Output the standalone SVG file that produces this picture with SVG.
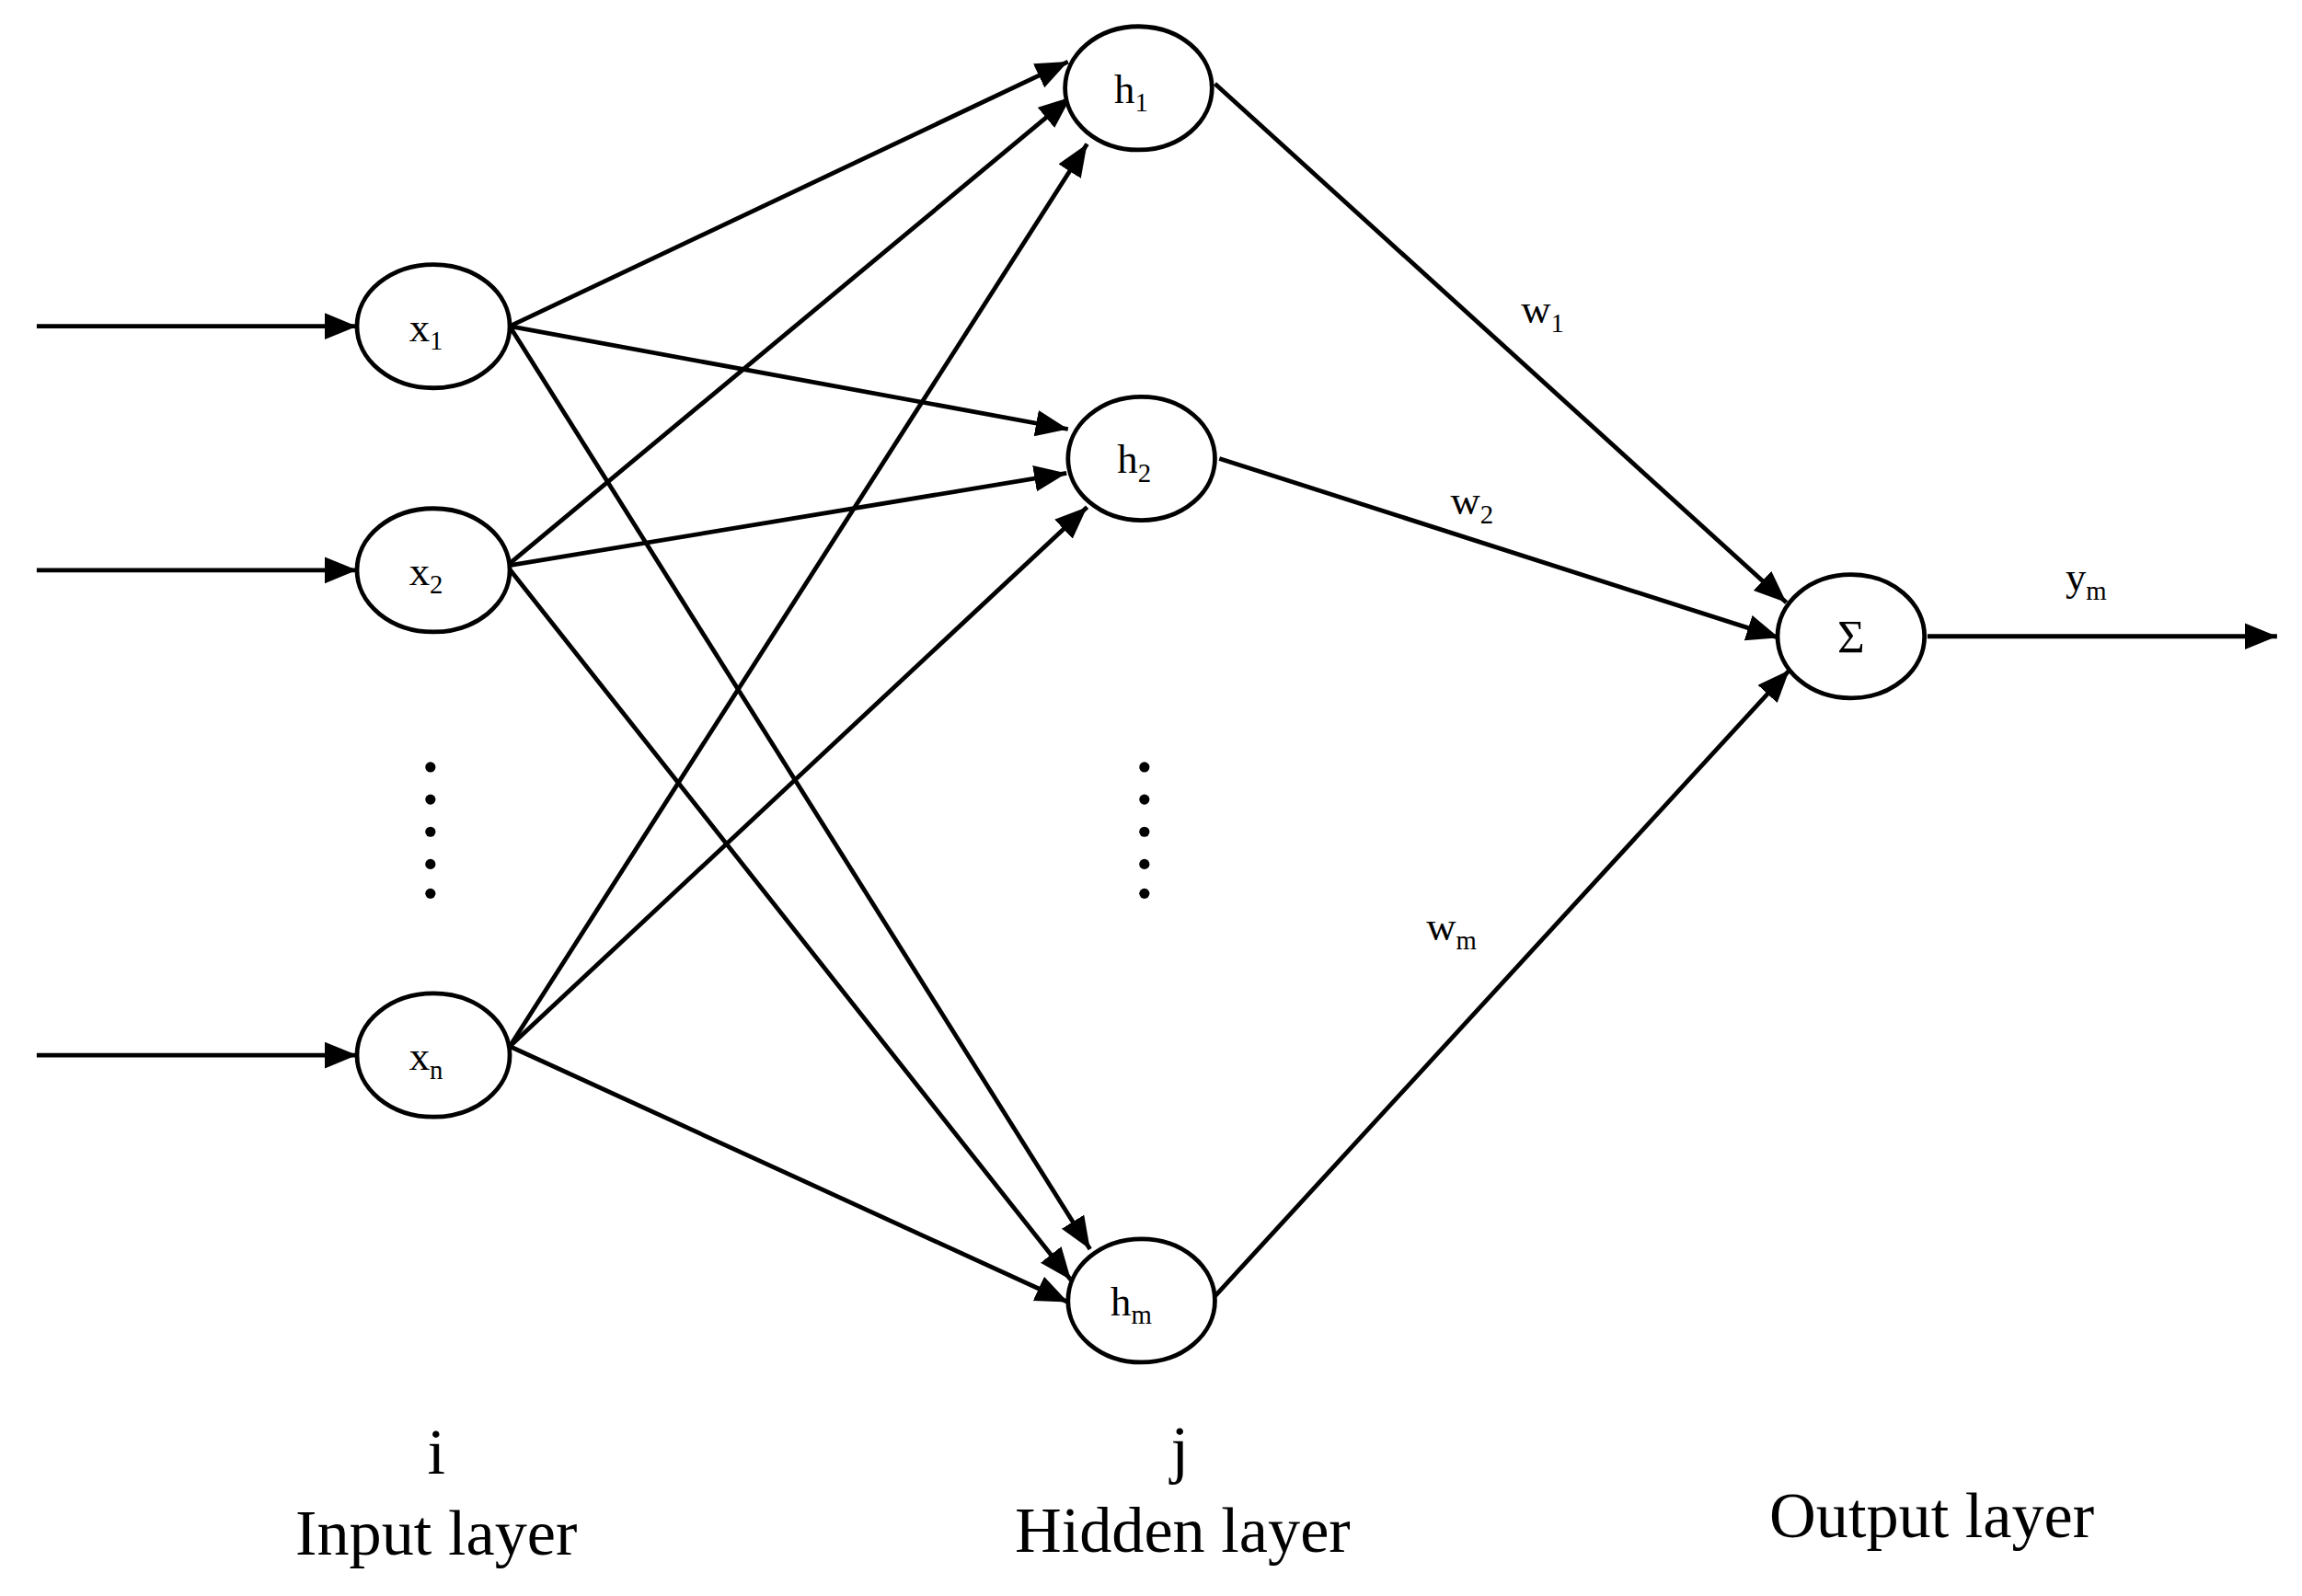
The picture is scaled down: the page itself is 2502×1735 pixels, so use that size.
<svg xmlns="http://www.w3.org/2000/svg" width="2502" height="1735" viewBox="0 0 2502 1735">
<style>
.n{fill:#fff;stroke:#000;stroke-width:3}
.e{stroke:#000;stroke-width:3;fill:none}
text{font-family:"Liberation Serif",serif;fill:#000}
.t{font-size:28px;text-anchor:middle}
.s{font-size:18px}
.l{font-size:44px;text-anchor:middle}
</style>
<defs>
<marker id="a" markerUnits="userSpaceOnUse" markerWidth="24" markerHeight="20" refX="22" refY="9" orient="auto">
<path d="M0,0 L22,9 L0,18 Z" fill="#000"/>
</marker>
</defs>
<rect width="2502" height="1735" fill="#fff"/>
<g transform="scale(1.5967,1.5976)">
<g id="connectors" class="e" marker-end="url(#a)">
<line x1="25" y1="222" x2="243" y2="222"/>
<line x1="25" y1="388" x2="243" y2="388"/>
<line x1="25" y1="718" x2="243" y2="718"/>
<line x1="347" y1="222" x2="727" y2="42"/>
<line x1="347" y1="222" x2="727" y2="292"/>
<line x1="347" y1="222" x2="742" y2="850"/>
<line x1="345" y1="385" x2="729" y2="66"/>
<line x1="345" y1="385" x2="726" y2="322"/>
<line x1="345" y1="385" x2="729" y2="871"/>
<line x1="347" y1="712" x2="740" y2="98"/>
<line x1="347" y1="712" x2="740" y2="345"/>
<line x1="347" y1="712" x2="727" y2="886"/>
<line x1="827" y1="57" x2="1216" y2="410"/>
<line x1="830" y1="312" x2="1211" y2="434"/>
<line x1="827" y1="882" x2="1218" y2="456"/>
<line x1="1312" y1="433" x2="1550" y2="433"/>
</g>
<g id="x1"><ellipse class="n" cx="295" cy="222" rx="52" ry="42"/><text class="t" x="290" y="232">x<tspan class="s" dy="6">1</tspan></text></g>
<g id="x2"><ellipse class="n" cx="295" cy="388" rx="52" ry="42"/><text class="t" x="290" y="398">x<tspan class="s" dy="6">2</tspan></text></g>
<g id="xn"><ellipse class="n" cx="295" cy="718" rx="52" ry="42"/><text class="t" x="290" y="728">x<tspan class="s" dy="6">n</tspan></text></g>
<g id="h1"><ellipse class="n" cx="775" cy="60" rx="50" ry="42"/><text class="t" x="770" y="70">h<tspan class="s" dy="6">1</tspan></text></g>
<g id="h2"><ellipse class="n" cx="777" cy="312" rx="50" ry="42"/><text class="t" x="772" y="322">h<tspan class="s" dy="6">2</tspan></text></g>
<g id="hm"><ellipse class="n" cx="777" cy="885" rx="50" ry="42"/><text class="t" x="770" y="895">h<tspan class="s" dy="6">m</tspan></text></g>
<g id="sum"><ellipse class="n" cx="1260" cy="433" rx="50" ry="42"/><text class="t" x="1260" y="444" style="font-size:32px">Σ</text></g>
<g id="dots" fill="#000">
<circle cx="293" cy="522" r="3.5"/><circle cx="293" cy="544" r="3.5"/><circle cx="293" cy="566" r="3.5"/><circle cx="293" cy="588" r="3.5"/><circle cx="293" cy="608" r="3.5"/>
<circle cx="779" cy="522" r="3.5"/><circle cx="779" cy="544" r="3.5"/><circle cx="779" cy="566" r="3.5"/><circle cx="779" cy="588" r="3.5"/><circle cx="779" cy="608" r="3.5"/>
</g>
<g id="labels">
<text class="t" x="1050" y="220">w<tspan class="s" dy="6">1</tspan></text>
<text class="t" x="1002" y="350">w<tspan class="s" dy="6">2</tspan></text>
<text class="t" x="988" y="640">w<tspan class="s" dy="6">m</tspan></text>
<text class="t" x="1420" y="402">y<tspan class="s" dy="6">m</tspan></text>
<text class="l" x="297" y="1003">i</text>
<text class="l" x="297" y="1058">Input layer</text>
<text class="l" x="803" y="1001">j</text>
<text class="l" x="805" y="1056">Hidden layer</text>
<text class="l" x="1315" y="1046">Output layer</text>
</g>
</g>
</svg>
